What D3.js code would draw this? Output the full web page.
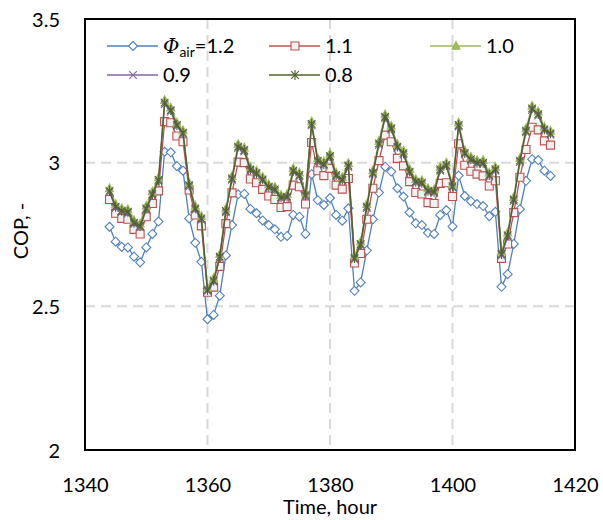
<!DOCTYPE html>
<html><head><meta charset="utf-8">
<script src="https://cdn.jsdelivr.net/npm/d3@7"></script>
<style>html,body{margin:0;padding:0;background:#fff;} text{font-family:Lato,"Open Sans",sans-serif;}</style>
</head><body>
<svg id="c" width="603" height="520"></svg>
<script>
const startHour = 1344, endHour = 1416;
const hours = d3.range(startHour, endHour + 1);
const xTicks = [1340, 1360, 1380, 1400, 1420];
const yTicks = [2, 2.5, 3, 3.5];
const yTickLabels = ["2", "2.5", "3", "3.5"];

const phi12 = [2.777,2.725,2.707,2.705,2.673,2.653,2.705,2.752,2.795,3.038,3.036,2.988,2.972,2.806,2.721,2.655,2.455,2.470,2.537,2.677,2.783,2.890,2.891,2.839,2.824,2.799,2.783,2.768,2.742,2.745,2.818,2.812,2.752,2.960,2.870,2.853,2.877,2.818,2.798,2.841,2.554,2.583,2.694,2.803,2.896,2.986,2.969,2.911,2.882,2.827,2.789,2.783,2.756,2.752,2.818,2.835,2.778,2.955,2.884,2.866,2.856,2.849,2.814,2.829,2.568,2.612,2.717,2.838,2.937,3.012,3.009,2.972,2.954];
const phi11 = [2.872,2.824,2.806,2.803,2.768,2.752,2.812,2.858,2.902,3.143,3.139,3.093,3.073,2.905,2.818,2.780,2.549,2.567,2.639,2.788,2.895,3.002,3.000,2.943,2.930,2.907,2.884,2.872,2.844,2.847,2.922,2.916,2.856,3.070,2.972,2.955,2.980,2.922,2.908,2.945,2.651,2.684,2.803,2.911,3.007,3.096,3.073,3.015,2.989,2.934,2.896,2.891,2.861,2.858,2.928,2.930,2.882,3.066,2.991,2.970,2.960,2.954,2.919,2.937,2.667,2.717,2.826,2.949,3.046,3.123,3.114,3.076,3.061];
const phi10 = [2.910,2.855,2.841,2.837,2.799,2.788,2.849,2.899,2.948,3.217,3.191,3.139,3.112,2.930,2.849,2.814,2.565,2.598,2.681,2.840,2.953,3.064,3.052,2.984,2.972,2.950,2.924,2.915,2.887,2.890,2.980,2.965,2.895,3.143,3.015,3.003,3.031,2.965,2.949,2.998,2.676,2.725,2.855,2.973,3.075,3.168,3.128,3.064,3.041,2.977,2.942,2.938,2.910,2.907,2.985,3.000,2.926,3.139,3.042,3.020,3.008,3.008,2.965,2.985,2.690,2.756,2.880,3.015,3.119,3.197,3.177,3.124,3.110];
const phi09 = [2.897,2.842,2.828,2.824,2.786,2.775,2.836,2.886,2.935,3.203,3.178,3.126,3.099,2.917,2.836,2.801,2.553,2.585,2.668,2.827,2.940,3.051,3.039,2.971,2.959,2.937,2.911,2.902,2.874,2.877,2.967,2.952,2.882,3.130,3.002,2.990,3.018,2.952,2.936,2.985,2.663,2.712,2.842,2.960,3.062,3.155,3.115,3.051,3.028,2.964,2.929,2.925,2.897,2.894,2.972,2.987,2.913,3.126,3.029,3.007,2.995,2.995,2.952,2.972,2.677,2.743,2.867,3.002,3.106,3.184,3.164,3.111,3.097];
const phi08 = [2.902,2.847,2.833,2.829,2.791,2.780,2.841,2.891,2.940,3.209,3.183,3.131,3.104,2.922,2.841,2.806,2.557,2.590,2.673,2.832,2.945,3.056,3.044,2.976,2.964,2.942,2.916,2.907,2.879,2.882,2.972,2.957,2.887,3.135,3.007,2.995,3.023,2.957,2.941,2.990,2.668,2.717,2.847,2.965,3.067,3.160,3.120,3.056,3.033,2.969,2.934,2.930,2.902,2.899,2.977,2.992,2.918,3.131,3.034,3.012,3.000,3.000,2.957,2.977,2.682,2.748,2.872,3.007,3.111,3.189,3.169,3.116,3.102];

const seriesNames = ["1.2", "1.1", "1.0", "0.9", "0.8"];
const seriesValues = [phi12, phi11, phi10, phi09, phi08];
const seriesColors = ["#4F81BD", "#C0504D", "#9BBB59", "#8064A2", "#4F6228"];
const seriesMarkers = ["diamond", "square", "triangle", "x", "star"];

const svg = d3.select("#c");
const L = 85, R = 575, T = 19, B = 450;
const FS = 20;
const x = d3.scaleLinear().domain([1340, 1420]).range([L, R]);
const y = d3.scaleLinear().domain([2, 3.5]).range([B, T]);

// gridlines
const grid = svg.append("g").attr("stroke", "#d9d9d9").attr("stroke-width", 2).attr("stroke-dasharray", "10,6");
grid.selectAll(".gx").data(xTicks.slice(1, -1)).enter().append("line")
  .attr("x1", d => x(d)).attr("x2", d => x(d)).attr("y1", T).attr("y2", B);
grid.selectAll(".gy").data(yTicks.slice(1, -1)).enter().append("line")
  .attr("y1", d => y(d)).attr("y2", d => y(d)).attr("x1", L).attr("x2", R);

// axes via d3
const xAxis = d3.axisBottom(x).tickValues(xTicks).tickSize(0).tickPadding(0).tickFormat(d3.format("d"));
const gx = svg.append("g").attr("transform", `translate(0,${B})`).call(xAxis);
gx.select(".domain").remove();
gx.selectAll("text").attr("font-size", FS).attr("fill", "#000").attr("dy", null).attr("y", 42)
  .style("font-family", "Lato");
const yAxis = d3.axisLeft(y).tickValues(yTicks).tickSize(0).tickPadding(0).tickFormat((d, i) => yTickLabels[i]);
const gy = svg.append("g").attr("transform", `translate(${L},0)`).call(yAxis);
gy.select(".domain").remove();
gy.selectAll("text").attr("font-size", FS).attr("fill", "#000").attr("x", -25).attr("dy", "0.35em")
  .style("font-family", "Lato");

function markerPath(type) {
  switch (type) {
    case "diamond": return "M0,-4.5L4.5,0L0,4.5L-4.5,0Z";
    case "square": return "M-4,-4H4V4H-4Z";
    case "triangle": return "M0,-4.5L4,3.2L-4,3.2Z";
    case "x": return "M-3.8,-3.8L3.8,3.8M3.8,-3.8L-3.8,3.8";
    case "star": return "M-3.8,-3.8L3.8,3.8M3.8,-3.8L-3.8,3.8M0,-5V5";
  }
}
function drawMarker(g, type, color) {
  const p = g.append("path").attr("d", markerPath(type)).attr("stroke", color).attr("stroke-width", 1.1);
  if (type === "diamond") p.attr("fill", "#fff");
  else if (type === "square") p.attr("fill", "#f2f2f2");
  else if (type === "triangle") p.attr("fill", color);
  else p.attr("fill", "none");
}

const line = d3.line().x((d, i) => x(hours[i])).y(d => y(d));
seriesValues.forEach((vals, si) => {
  const g = svg.append("g");
  g.append("path").datum(vals).attr("d", line).attr("fill", "none")
    .attr("stroke", seriesColors[si]).attr("stroke-width", 1.3);
  vals.forEach((v, i) => {
    const mg = g.append("g").attr("transform", `translate(${x(hours[i])},${y(v)})`);
    drawMarker(mg, seriesMarkers[si], seriesColors[si]);
  });
});

// frame
svg.append("rect").attr("x", L).attr("y", T).attr("width", R - L).attr("height", B - T)
  .attr("fill", "none").attr("stroke", "#000").attr("stroke-width", 2);

// axis titles
svg.append("text").attr("x", (L + R) / 2).attr("y", 514).attr("text-anchor", "middle")
  .attr("font-size", FS).text("Time, hour");
svg.append("text").attr("transform", "translate(28,231) rotate(-90)").attr("text-anchor", "middle")
  .attr("font-size", FS).text("COP, -");

// legend
const legendPos = [[107, 46], [269, 46], [430, 46], [107, 75], [269, 75]];
seriesNames.forEach((name, si) => {
  const [lx, ly] = legendPos[si];
  const g = svg.append("g");
  g.append("line").attr("x1", lx).attr("x2", lx + 51).attr("y1", ly).attr("y2", ly)
    .attr("stroke", seriesColors[si]).attr("stroke-width", 1.3);
  const mg = g.append("g").attr("transform", `translate(${lx + 26},${ly})`);
  drawMarker(mg, seriesMarkers[si], seriesColors[si]);
  const t = g.append("text").attr("x", lx + 56).attr("y", ly + 7).attr("font-size", FS);
  if (si === 0) {
    t.append("tspan").attr("font-family", "DejaVu Serif").attr("font-style", "italic").text("Φ");
    t.append("tspan").attr("font-size", 14).attr("dy", 4).text("air");
    t.append("tspan").attr("dy", -4).text("=" + name);
  } else {
    t.text(name);
  }
});
</script>
</body></html>
